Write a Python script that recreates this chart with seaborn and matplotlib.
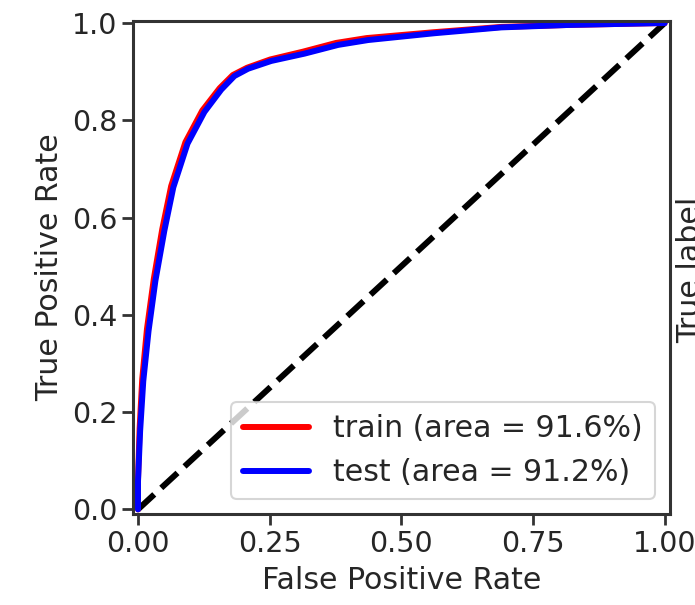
import matplotlib
matplotlib.use("Agg")
import matplotlib.pyplot as plt
import seaborn as sns
import pandas as pd

# ROC curve values
test_fpr = [0.0, 0.0, 0.004, 0.010, 0.020, 0.033, 0.050, 0.067, 0.094, 0.126, 0.158,
            0.183, 0.209, 0.253, 0.316, 0.380, 0.437, 0.563, 0.690, 0.817, 1.0]
test_tpr = [0.0, 0.058, 0.161, 0.264, 0.367, 0.470, 0.573, 0.662, 0.752, 0.817, 0.863,
            0.891, 0.906, 0.922, 0.937, 0.955, 0.965, 0.979, 0.991, 0.996, 1.0]
train_fpr = [0.0, 0.0, 0.003, 0.008, 0.017, 0.030, 0.046, 0.063, 0.090, 0.122, 0.155,
             0.180, 0.207, 0.251, 0.313, 0.376, 0.434, 0.561, 0.690, 0.817, 1.0]
train_tpr = [0.0, 0.062, 0.166, 0.268, 0.371, 0.474, 0.576, 0.665, 0.755, 0.820, 0.866,
             0.893, 0.908, 0.925, 0.941, 0.959, 0.969, 0.981, 0.992, 0.996, 1.0]
chance = [0.0, 1.0]
series_labels = ["train (area = 91.6%)", "test (area = 91.2%)"]
xticks = [0.0, 0.25, 0.5, 0.75, 1.0]
yticks = [0.0, 0.2, 0.4, 0.6, 0.8, 1.0]

sns.set_theme(style="ticks")
plt.rcParams["font.family"] = ["DejaVu Sans"]
FS = 21.6
TFS = 20.5

fig = plt.figure(figsize=(6.95, 6.05), dpi=100)
ax = fig.add_axes([0.191, 0.150, 0.773, 0.816])

train_df = pd.DataFrame({"fpr": train_fpr, "tpr": train_tpr})
test_df = pd.DataFrame({"fpr": test_fpr, "tpr": test_tpr})
diag_df = pd.DataFrame({"x": chance, "y": chance})

LW = 4.3
sns.lineplot(data=diag_df, x="x", y="y", ax=ax, color="black", lw=LW,
             linestyle="--", estimator=None, sort=False)
sns.lineplot(data=train_df, x="fpr", y="tpr", ax=ax, color="#ff0000", lw=LW,
             estimator=None, sort=False, label=series_labels[0])
sns.lineplot(data=test_df, x="fpr", y="tpr", ax=ax, color="#0000ff", lw=LW,
             estimator=None, sort=False, label=series_labels[1])

ax.set_xlim(-0.01, 1.01)
ax.set_ylim(-0.01, 1.005)
ax.set_xticks(xticks)
ax.set_xticklabels([f"{t:.2f}" for t in xticks])
ax.set_yticks(yticks)
ax.set_yticklabels([f"{t:.1f}" for t in yticks])
ax.tick_params(axis="both", labelsize=TFS, length=8, width=2.0, color="#333333",
               labelcolor="#262626", pad=3)
for s in ax.spines.values():
    s.set_color("#333333")
    s.set_linewidth(2.2)

ax.set_xlabel("False Positive Rate", fontsize=FS, color="#262626", labelpad=6)
ax.set_ylabel("True Positive Rate", fontsize=FS, color="#262626", labelpad=6)

leg = ax.legend(loc="lower right", fontsize=FS, handlelength=2.2, frameon=True,
                framealpha=0.8, fancybox=True, borderaxespad=0.5)
leg.get_frame().set_edgecolor("#cccccc")
leg.get_frame().set_linewidth(1.5)
for t in leg.get_texts():
    t.set_color("#262626")

fig.text(0.9935, 0.554, "True label", rotation=90, ha="center", va="center",
         fontsize=FS, color="#262626")

fig.savefig("out.png", dpi=100)
